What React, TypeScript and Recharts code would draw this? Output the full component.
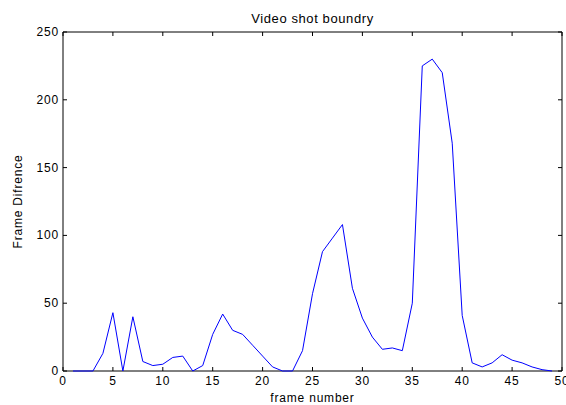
import { LineChart, Line, XAxis, YAxis, Label, ReferenceArea } from 'recharts';

const frames = [1, 2, 3, 4, 5, 6, 7, 8, 9, 10, 11, 12, 13, 14, 15, 16, 17, 18, 19, 20, 21, 22, 23, 24, 25, 26, 27, 28, 29, 30, 31, 32, 33, 34, 35, 36, 37, 38, 39, 40, 41, 42, 43, 44, 45, 46, 47, 48, 49];
const diffs = [0, 0, 0, 13, 43, 0, 40, 7, 4, 5, 10, 11, 0, 4, 27, 42, 30, 27, 19, 11, 3, 0, 0, 15, 57, 88, 98, 108, 61, 39, 25, 16, 17, 15, 50, 225, 230, 220, 168, 41, 6, 3, 6, 12, 8, 6, 3, 1, 0];
const xTicks = [0, 5, 10, 15, 20, 25, 30, 35, 40, 45, 50];
const yTicks = [0, 50, 100, 150, 200, 250];

const data = frames.map((f, i) => ({ frame: f, diff: diffs[i] }));

const W = 566;
const H = 405;
const M = { top: 32, right: 4, left: 0, bottom: 0 };
const AX_H = 34;
const AX_W = 63;
const plotTop = M.top;
const plotBottom = H - M.bottom - AX_H;
const plotLeft = M.left + AX_W;
const plotRight = W - M.right;
const TICK = 4;
const GAP = 5;

const font = { fontFamily: 'Liberation Sans, Arial, sans-serif', fontSize: 12, fill: '#000', letterSpacing: 0.8 };

// matlab style: ticks point inward, on both sides of the box
const XTick = (props: any) => {
    const { x, payload } = props;
    return (
        <g>
            <line x1={x} x2={x} y1={plotBottom} y2={plotBottom - TICK} stroke="#000" />
            <line x1={x} x2={x} y1={plotTop} y2={plotTop + TICK} stroke="#000" />
            <text x={x} y={plotBottom + GAP} textAnchor="middle" dominantBaseline="hanging" style={font}>
                {payload.value}
            </text>
        </g>
    );
};

const YTick = (props: any) => {
    const { y, payload } = props;
    return (
        <g>
            <line x1={plotLeft} x2={plotLeft + TICK} y1={y} y2={y} stroke="#000" />
            <line x1={plotRight} x2={plotRight - TICK} y1={y} y2={y} stroke="#000" />
            <text x={plotLeft - 4} y={y} textAnchor="end" dominantBaseline="central" style={font}>
                {payload.value}
            </text>
        </g>
    );
};

const YTitle = (props: any) => {
    const vb = props.viewBox;
    const cx = 18;
    const cy = vb.y + vb.height / 2;
    return (
        <text x={cx} y={cy} transform={`rotate(-90, ${cx}, ${cy})`} textAnchor="middle" dominantBaseline="central" style={font}>
            Frame Difrence
        </text>
    );
};

export default function App() {
    return (
        <div style={{ position: 'fixed', left: 0, top: 0, width: W, height: H, background: '#fff' }}>
            <div style={{ position: 'absolute', left: plotLeft, width: plotRight - plotLeft, top: 11, textAlign: 'center', fontFamily: 'Liberation Sans, Arial, sans-serif', fontSize: 13, letterSpacing: 0.6, color: '#000' }}>
                Video shot boundry
            </div>
            <LineChart width={W} height={H} data={data} margin={M}>
                <XAxis
                    dataKey="frame"
                    type="number"
                    domain={[0, 50]}
                    ticks={xTicks}
                    height={AX_H}
                    tickSize={0}
                    axisLine={false}
                    tickLine={false}
                    tick={XTick}
                    interval={0}
                >
                    <Label value="frame number" position="insideBottom" offset={3} style={font} />
                </XAxis>
                <YAxis
                    type="number"
                    domain={[0, 250]}
                    ticks={yTicks}
                    width={AX_W}
                    tickSize={0}
                    axisLine={false}
                    tickLine={false}
                    tick={YTick}
                    interval={0}
                >
                    <Label content={YTitle} />
                </YAxis>
                <ReferenceArea x1={0} x2={50} y1={0} y2={250} fill="none" stroke="#000" strokeWidth={1} ifOverflow="visible" />
                <Line
                    dataKey="diff"
                    stroke="#0000ff"
                    strokeWidth={1}
                    dot={false}
                    activeDot={false}
                    type="linear"
                    isAnimationActive={false}
                />
            </LineChart>
        </div>
    );
}
